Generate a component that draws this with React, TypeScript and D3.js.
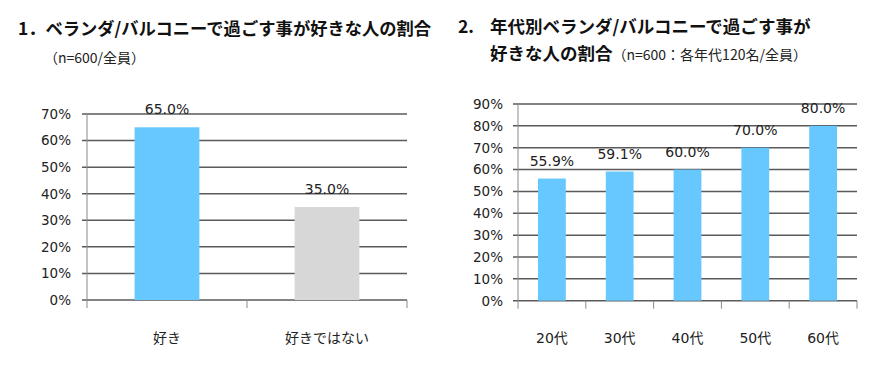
import React from "react";
import * as d3 from "d3";

const leftCategories = ["好き", "好きではない"];
const leftValues = [0.65, 0.35];
const leftColors = ["#66C8FF", "#D7D7D7"];
const leftTicks = [0, 0.1, 0.2, 0.3, 0.4, 0.5, 0.6, 0.7];

const rightCategories = ["20代", "30代", "40代", "50代", "60代"];
const rightValues = [0.559, 0.591, 0.6, 0.7, 0.8];
const rightTicks = [0, 0.1, 0.2, 0.3, 0.4, 0.5, 0.6, 0.7, 0.8, 0.9];

const FONT = "'Noto Sans CJK JP', 'Noto Sans', sans-serif";
const NUMFONT = "'DejaVu Sans', 'Noto Sans CJK JP', sans-serif";

type PanelProps = {
  cats: string[];
  vals: number[];
  colors: string[];
  ticks: number[];
  x0: number;
  x1: number;
  yTop: number;
  yBot: number;
  barFrac: number;
  labelRight: number;
};

function Panel({ cats, vals, colors, ticks, x0, x1, yTop, yBot, barFrac, labelRight }: PanelProps) {
  const y = d3.scaleLinear().domain([0, ticks[ticks.length - 1]]).range([yBot, yTop]);
  const x = d3.scaleBand<string>().domain(cats).range([x0, x1]).paddingInner(0).paddingOuter(0);
  const bw = x.bandwidth() * barFrac;
  const fmtTick = d3.format(".0%");
  const fmtVal = d3.format(".1%");
  return (
    <g>
      {ticks.map((t) => (
        <g key={t}>
          <line x1={x0 - 5} x2={x1} y1={y(t)} y2={y(t)} stroke="#5a5a5a" strokeWidth={1.5} />
          <text x={labelRight} y={y(t)} dy="0.36em" textAnchor="end" fontSize={13.5} fill="#222" fontFamily={NUMFONT}>
            {fmtTick(t)}
          </text>
        </g>
      ))}
      <line x1={x0} x2={x0} y1={yTop} y2={yBot + 8} stroke="#8a8a8a" strokeWidth={1} />
      {cats.map((c) => (
        <line key={"tk" + c} x1={(x(c) as number) + x.bandwidth()} x2={(x(c) as number) + x.bandwidth()} y1={yBot} y2={yBot + 8} stroke="#8a8a8a" strokeWidth={1} />
      ))}
      {cats.map((c, i) => {
        const cx = (x(c) as number) + x.bandwidth() / 2;
        return (
          <g key={c}>
            <rect x={cx - bw / 2} y={y(vals[i])} width={bw} height={yBot - y(vals[i])} fill={colors[i % colors.length]} />
            <text x={cx} y={y(vals[i]) - 13} textAnchor="middle" fontSize={14} fill="#222" fontFamily={NUMFONT}>
              {fmtVal(vals[i])}
            </text>
            <text x={cx} y={343} textAnchor="middle" fontSize={14} fill="#222" fontFamily={NUMFONT}>
              {c}
            </text>
          </g>
        );
      })}
    </g>
  );
}

export default function App() {
  return (
    <div style={{ position: "absolute", left: 0, top: 0 }}>
      <svg width={891} height={366} style={{ display: "block", background: "#fff" }}>
        <text x={18} y={35} fontSize={17.3} fontWeight="bold" fill="#111" fontFamily={FONT}>
          1．ベランダ/バルコニーで過ごす事が好きな人の割合
        </text>
        <text x={44} y={63} fontSize={14} fill="#222" fontFamily={FONT}>
          （n=600/全員）
        </text>
        <text x={458} y={33} fontSize={17.5} fontWeight="bold" fill="#111" fontFamily={FONT}>
          2.
        </text>
        <text x={490} y={33} fontSize={17.5} fontWeight="bold" fill="#111" fontFamily={FONT}>
          年代別ベランダ/バルコニーで過ごす事が
        </text>
        <text x={490} y={60} fontSize={17.5} fontWeight="bold" fill="#111" fontFamily={FONT}>
          好きな人の割合
          <tspan fontSize={14} fontWeight="normal" fill="#222">（n=600：各年代120名/全員）</tspan>
        </text>
        <Panel
          cats={leftCategories}
          vals={leftValues}
          colors={leftColors}
          ticks={leftTicks}
          x0={87}
          x1={407}
          yTop={114}
          yBot={300}
          barFrac={0.405}
          labelRight={71}
        />
        <Panel
          cats={rightCategories}
          vals={rightValues}
          colors={["#66C8FF"]}
          ticks={rightTicks}
          x0={518}
          x1={857}
          yTop={104}
          yBot={300.7}
          barFrac={0.41}
          labelRight={503}
        />
      </svg>
    </div>
  );
}
